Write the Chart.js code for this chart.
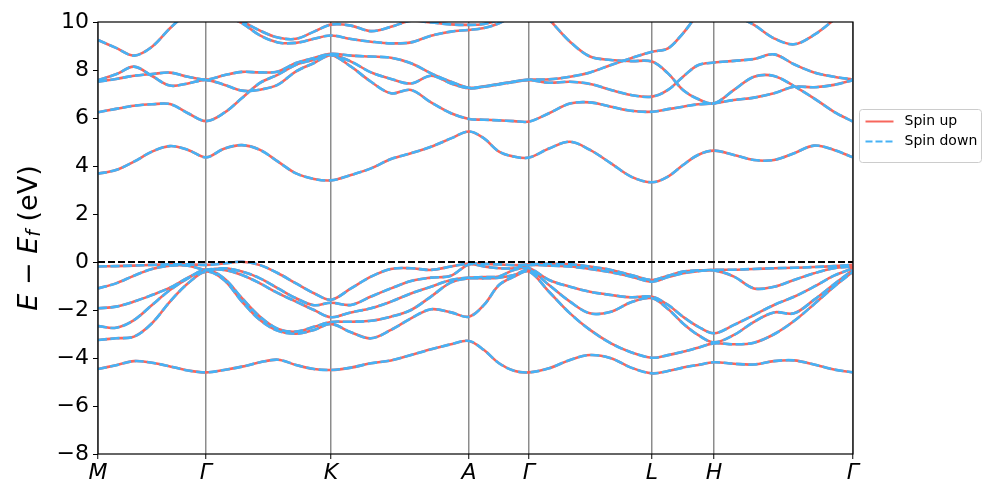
<!DOCTYPE html>
<html lang="en">
<head>
    <meta charset="UTF-8">
    <title>Band structure</title>
    <style>
        body {
            margin: 0;
            padding: 0;
            background: #fff;
        }
        .chart-box {
            position: relative;
            width: 997px;
            height: 498px;
        }
    </style>
</head>
<body>
    <div class="chart-box">
        <canvas id="bandChart"></canvas>
    </div>

    <script src="https://cdn.jsdelivr.net/npm/chart.js"></script>
    <script>
        // k-path (arbitrary path length units) and high-symmetry points
        const kTicks = [0, 1.08, 2.33, 3.71, 4.31, 5.54, 6.16, 7.55];
        const kLabels = ['M', 'Γ', 'K', 'A', 'Γ', 'L', 'H', 'Γ'];

        const kGrid = [0, 0.18, 0.36, 0.54, 0.72, 0.90, 1.08,
            1.26, 1.44, 1.62, 1.80, 1.98, 2.16, 2.33,
            2.53, 2.73, 2.93, 3.13, 3.33, 3.53, 3.71,
            3.86, 4.01, 4.16, 4.31,
            4.51, 4.72, 4.92, 5.13, 5.33, 5.54,
            5.70, 5.85, 6.00, 6.16,
            6.36, 6.56, 6.76, 6.96, 7.16, 7.36, 7.55];

        // valence bands (E - Ef, eV), top to bottom
        const v1 = [-0.19, -0.17, -0.15, -0.12, -0.10, -0.10, -0.12,
            -0.06, 0.01, -0.13, -0.47, -0.89, -1.30, -1.57,
            -1.10, -0.61, -0.29, -0.26, -0.33, -0.19, -0.06,
            -0.08, -0.10, -0.13, -0.10,
            -0.08, -0.10, -0.19, -0.33, -0.54, -0.75,
            -0.57, -0.40, -0.35, -0.33,
            -0.32, -0.29, -0.26, -0.24, -0.21, -0.17, -0.12];
        const v2 = [-1.10, -0.89, -0.57, -0.29, -0.15, -0.15, -0.33,
            -0.26, -0.40, -0.68, -1.10, -1.51, -1.80, -1.70,
            -1.79, -1.44, -1.10, -0.79, -0.65, -0.57, -0.10,
            -0.19, -0.26, -0.26, -0.13,
            -0.15, -0.19, -0.29, -0.43, -0.61, -0.82,
            -0.63, -0.47, -0.38, -0.35,
            -0.61, -1.10, -1.03, -0.75, -0.47, -0.26, -0.19];
        const v3 = [-1.93, -1.86, -1.65, -1.375, -1.07, -0.65, -0.33,
            -0.33, -0.54, -0.89, -1.30, -1.65, -2.00, -2.30,
            -2.10, -1.93, -1.65, -1.31, -1.03, -0.75, -0.65,
            -0.63, -0.60, -0.33, -0.26,
            -0.75, -1.03, -1.24, -1.375, -1.47, -1.45,
            -1.79, -2.28, -2.69, -2.97,
            -2.62, -2.21, -1.79, -1.45, -1.03, -0.57, -0.26];
        const v4 = [-2.67, -2.74, -2.42, -1.79, -1.17, -0.68, -0.33,
            -0.68, -1.51, -2.28, -2.79, -2.90, -2.70, -2.50,
            -2.49, -2.45, -2.28, -2.00, -1.44, -0.85, -0.68,
            -0.68, -0.65, -0.54, -0.33,
            -0.96, -1.65, -2.14, -2.07, -1.68, -1.51,
            -1.96, -2.56, -3.04, -3.35,
            -3.04, -2.49, -2.10, -2.14, -1.58, -0.93, -0.33];
        const v5 = [-3.25, -3.18, -3.11, -2.55, -1.65, -0.89, -0.40,
            -0.75, -1.65, -2.42, -2.87, -2.99, -2.83, -2.58,
            -2.93, -3.18, -2.83, -2.35, -1.97, -2.10, -2.28,
            -1.79, -0.96, -0.61, -0.40,
            -1.24, -2.14, -2.83, -3.39, -3.76, -3.99,
            -3.88, -3.74, -3.57, -3.39,
            -3.43, -3.36, -3.01, -2.46, -1.76, -1.03, -0.40];
        const v6 = [-4.46, -4.30, -4.13, -4.20, -4.35, -4.52, -4.60,
            -4.50, -4.36, -4.18, -4.07, -4.29, -4.46, -4.50,
            -4.40, -4.22, -4.10, -3.875, -3.64, -3.43, -3.29,
            -3.67, -4.22, -4.53, -4.60,
            -4.43, -4.08, -3.875, -4.01, -4.40, -4.64,
            -4.54, -4.40, -4.29, -4.18,
            -4.24, -4.27, -4.13, -4.10, -4.27, -4.48, -4.60];

        // conduction bands, followed as lines so that crossings stay crossings
        const c1 = [3.68, 3.83, 4.18, 4.60, 4.83, 4.67, 4.36,
            4.72, 4.87, 4.67, 4.18, 3.69, 3.46, 3.40,
            3.625, 3.90, 4.29, 4.53, 4.80, 5.15, 5.44,
            5.15, 4.60, 4.39, 4.35,
            4.73, 5.01, 4.67, 4.11, 3.56, 3.32,
            3.56, 4.04, 4.46, 4.64,
            4.46, 4.25, 4.25, 4.53, 4.85, 4.67, 4.36];
        const c2 = [6.24, 6.38, 6.51, 6.57, 6.58, 6.20, 5.87,
            6.21, 6.83, 7.46, 7.81, 8.22, 8.43, 8.63,
            8.14, 7.51, 7.03, 7.17, 6.65, 6.20, 5.96,
            5.93, 5.90, 5.87, 5.85,
            6.20, 6.60, 6.65, 6.47, 6.30, 6.26,
            6.37, 6.47, 6.57, 6.61,
            6.75, 6.85, 7.03, 7.30, 7.28, 7.38, 7.58];
        const c3 = [7.58, 7.82, 8.14, 7.75, 7.35, 7.44, 7.58,
            7.39, 7.14, 7.18, 7.39, 7.94, 8.29, 8.62,
            8.35, 7.90, 7.63, 7.44, 7.76, 7.44, 7.24,
            7.30, 7.40, 7.50, 7.58,
            7.47, 7.51, 7.42, 7.17, 6.96, 6.89,
            7.17, 7.72, 8.20, 8.31,
            8.38, 8.46, 8.65, 8.24, 7.90, 7.72, 7.60];
        const c4 = [7.51, 7.625, 7.76, 7.83, 7.89, 7.72, 7.60,
            7.78, 7.92, 7.90, 7.94, 8.29, 8.50, 8.67,
            8.60, 8.56, 8.51, 8.28, 7.86, 7.51, 7.26,
            7.32, 7.42, 7.52, 7.60,
            7.61, 7.72, 7.90, 8.21, 8.49, 8.76,
            8.90, 9.53, 10.30, 10.80,
            10.30, 9.88, 9.32, 9.07, 9.46, 10.10, 10.80];
        const c5 = [9.25, 8.92, 8.60, 8.97, 9.74, 10.40, 10.90,
            10.30, 9.95, 9.44, 9.15, 9.13, 9.30, 9.44,
            9.29, 9.18, 9.11, 9.15, 9.43, 9.60, 9.67,
            9.75, 9.95, 10.30, 10.80,
            10.10, 9.18, 8.56, 8.42, 8.37, 8.35,
            7.86, 7.17, 6.79, 6.61,
            7.17, 7.72, 7.75, 7.33, 6.82, 6.26, 5.85];
        const c6 = [11.4, 11.3, 11.2, 11.1, 11.0, 11.0, 11.1,
            10.6, 10.05, 9.64, 9.35, 9.30, 9.60, 9.89,
            9.85, 9.62, 9.80, 10.05, 9.98, 9.90, 9.88,
            9.92, 10.1, 10.5, 11.0,
            11.3, 11.0, 10.6, 10.4, 10.5, 10.7,
            10.9, 10.8, 10.9, 11.1,
            11.1, 10.9, 10.6, 10.4, 10.6, 10.9, 11.2];

        const bands = [v1, v2, v3, v4, v5, v6, c1, c2, c3, c4, c5, c6];

        const upColor = 'rgb(247, 102, 92)';
        const downColor = 'rgb(70, 178, 245)';
        const fontFamily = "'DejaVu Sans', sans-serif";

        function toPoints(values) {
            return values.map(function (e, i) { return { x: kGrid[i], y: e }; });
        }

        const datasets = [];
        // Fermi level
        datasets.push({
            label: 'Ef',
            data: [{ x: kTicks[0], y: 0 }, { x: kTicks[kTicks.length - 1], y: 0 }],
            borderColor: '#000',
            borderWidth: 1.8,
            borderDash: [7, 3],
            pointRadius: 0,
            order: -1
        });
        bands.forEach(function (b) {
            datasets.push({
                label: 'Spin down',
                data: toPoints(b),
                borderColor: downColor,
                borderWidth: 2.6,
                borderDash: [9, 3.5],
                pointRadius: 0,
                tension: 0.35,
                order: 0
            });
            datasets.push({
                label: 'Spin up',
                data: toPoints(b),
                borderColor: upColor,
                borderWidth: 2.6,
                pointRadius: 0,
                tension: 0.35,
                order: 1
            });
        });

        // frame, y label and legend drawn by hand
        const decorPlugin = {
            id: 'decor',
            afterDraw(chart) {
                const ctx = chart.ctx;
                const area = chart.chartArea;
                ctx.save();

                // axes box
                ctx.strokeStyle = '#000';
                ctx.lineWidth = 1.2;
                ctx.strokeRect(area.left, area.top, area.right - area.left, area.bottom - area.top);

                // y label: E − E_f (eV)
                const size = 27;
                const runs = [
                    { t: 'E', f: 'italic ' + size + 'px ' + fontFamily, dy: 0 },
                    { t: ' \u2212 ', f: size + 'px ' + fontFamily, dy: 0 },
                    { t: 'E', f: 'italic ' + size + 'px ' + fontFamily, dy: 0 },
                    { t: 'f', f: 'italic ' + Math.round(size * 0.7) + 'px ' + fontFamily, dy: 5 },
                    { t: ' (eV)', f: size + 'px ' + fontFamily, dy: 0 }
                ];
                let total = 0;
                runs.forEach(function (r) {
                    ctx.font = r.f;
                    r.w = ctx.measureText(r.t).width;
                    total += r.w;
                });
                ctx.translate(30, (area.top + area.bottom) / 2);
                ctx.rotate(-Math.PI / 2);
                ctx.fillStyle = '#000';
                ctx.textBaseline = 'middle';
                let x = -total / 2;
                runs.forEach(function (r) {
                    ctx.font = r.f;
                    ctx.fillText(r.t, x, r.dy);
                    x += r.w;
                });
                ctx.setTransform(1, 0, 0, 1, 0, 0);

                // legend
                const lx = area.right + 6.5, ly = area.top + 87.5, lw = 122, lh = 53;
                ctx.beginPath();
                ctx.roundRect(lx, ly, lw, lh, 3);
                ctx.fillStyle = 'rgba(255,255,255,0.8)';
                ctx.fill();
                ctx.strokeStyle = '#cccccc';
                ctx.lineWidth = 1;
                ctx.stroke();

                const items = [
                    { label: 'Spin up', color: upColor, dash: [] },
                    { label: 'Spin down', color: downColor, dash: [7, 3] }
                ];
                items.forEach(function (it, i) {
                    const y = ly + 12 + i * 20;
                    ctx.beginPath();
                    ctx.setLineDash(it.dash);
                    ctx.strokeStyle = it.color;
                    ctx.lineWidth = 2;
                    ctx.moveTo(lx + 6, y);
                    ctx.lineTo(lx + 34, y);
                    ctx.stroke();
                    ctx.setLineDash([]);
                    ctx.fillStyle = '#000';
                    ctx.font = '14px ' + fontFamily;
                    ctx.textBaseline = 'middle';
                    ctx.fillText(it.label, lx + 45, y);
                });
                ctx.restore();
            }
        };

        const chartCtx = document.getElementById('bandChart').getContext('2d');
        new Chart(chartCtx, {
            type: 'line',
            data: { datasets: datasets },
            plugins: [decorPlugin],
            options: {
                responsive: true,
                maintainAspectRatio: false,
                devicePixelRatio: 1,
                animation: false,
                layout: { padding: { top: 22, right: 144, bottom: 0, left: 0 } },
                plugins: {
                    legend: { display: false },
                    tooltip: { enabled: false }
                },
                scales: {
                    x: {
                        type: 'linear',
                        min: kTicks[0],
                        max: kTicks[kTicks.length - 1],
                        afterBuildTicks: function (scale) {
                            scale.ticks = kTicks.map(function (v) { return { value: v }; });
                        },
                        afterFit: function (scale) { scale.height = 44; },
                        border: { display: false },
                        grid: {
                            color: 'rgba(0,0,0,0.45)',
                            lineWidth: 1.5,
                            tickColor: '#000',
                            tickLength: 5,
                            tickWidth: 1
                        },
                        ticks: {
                            autoSkip: false,
                            maxRotation: 0,
                            padding: 1,
                            color: '#000',
                            font: { family: fontFamily, size: 22, style: 'italic' },
                            callback: function (value, index) { return kLabels[index]; }
                        }
                    },
                    y: {
                        min: -8,
                        max: 10,
                        afterFit: function (scale) { scale.width = 98; },
                        border: { display: false },
                        grid: {
                            drawOnChartArea: false,
                            tickColor: '#000',
                            tickLength: 5,
                            tickWidth: 1
                        },
                        ticks: {
                            stepSize: 2,
                            padding: 4,
                            color: '#000',
                            font: { family: fontFamily, size: 22 },
                            callback: function (value) { return String(value).replace('-', '\u2212'); }
                        }
                    }
                }
            }
        });
    </script>
</body>
</html>
